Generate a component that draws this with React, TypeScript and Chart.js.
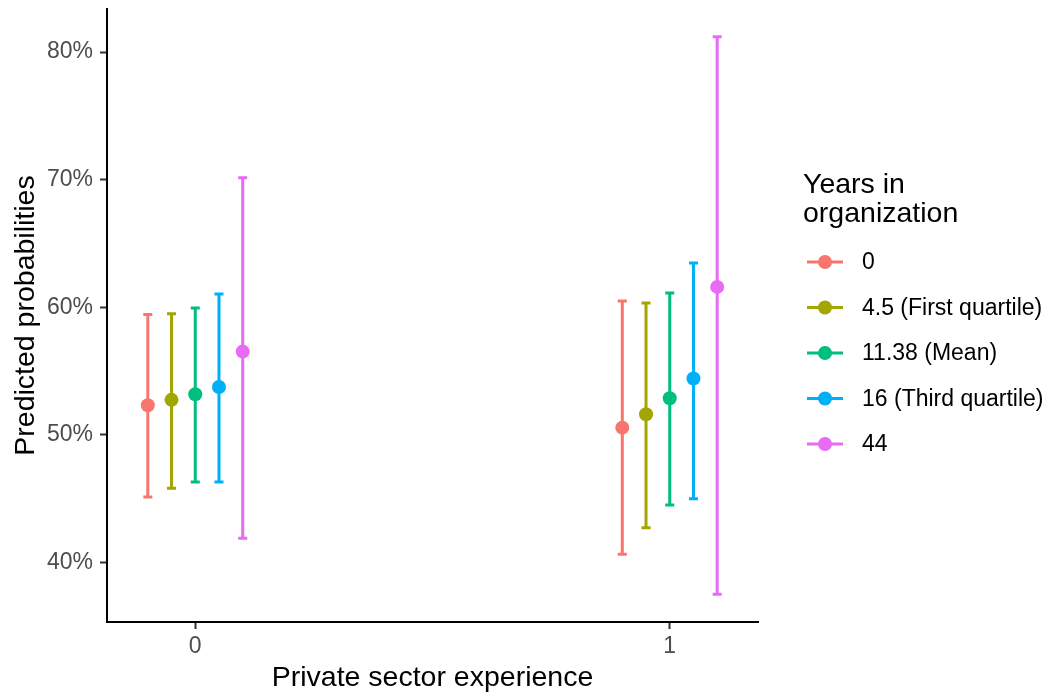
import React, { useEffect, useRef } from 'react';
import { Chart, registerables } from 'chart.js';

Chart.register(...registerables);

// ---- data ----
const xCategories = ['0', '1'];
const xCategoryValues = [0, 1];
const groupLabels = ['0', '4.5 (First quartile)', '11.38 (Mean)', '16 (Third quartile)', '44'];
const groupColors = ['#F8766D', '#A3A500', '#00BF7D', '#00B0F6', '#E76BF3'];
// predicted probabilities (%), private sector experience = 0
const estimate0 = [52.33, 52.75, 53.19, 53.76, 56.53];
const lower0 = [45.14, 45.82, 46.31, 46.31, 41.9];
const upper0 = [59.43, 59.5, 59.95, 61.04, 70.15];
// predicted probabilities (%), private sector experience = 1
const estimate1 = [50.57, 51.62, 52.88, 54.42, 61.6];
const lower1 = [40.64, 42.73, 44.51, 45.0, 37.52];
const upper1 = [60.5, 60.34, 61.12, 63.47, 81.2];
const yTickValues = [40, 50, 60, 70, 80];
const legendTitle = ['Years in', 'organization'];
const xTitle = 'Private sector experience';
const yTitle = 'Predicted probabilities';

// ---- style constants ----
const FONT = '"Liberation Sans", Arial, Helvetica, sans-serif';
const DODGE = 0.05;
const CAP_WIDTH = 0.019;
const TICK_SIZE = 23;
const TITLE_SIZE = 28.5;
const BAR_WIDTH = 3;

const errorBarPlugin = {
  id: 'errorBars',
  beforeDatasetsDraw(chart: any) {
    const { ctx, scales } = chart;
    const x = scales.x;
    const y = scales.y;
    chart.data.datasets.forEach((ds: any) => {
      ds.data.forEach((pt: any) => {
        const px = x.getPixelForValue(pt.x);
        const half = (x.getPixelForValue(pt.x + CAP_WIDTH / 2) - x.getPixelForValue(pt.x - CAP_WIDTH / 2)) / 2;
        const yLo = y.getPixelForValue(pt.low);
        const yHi = y.getPixelForValue(pt.high);
        ctx.save();
        ctx.strokeStyle = ds.borderColor;
        ctx.lineWidth = BAR_WIDTH;
        ctx.lineCap = 'butt';
        ctx.beginPath();
        ctx.moveTo(px, yLo);
        ctx.lineTo(px, yHi);
        ctx.moveTo(px - half, yLo);
        ctx.lineTo(px + half, yLo);
        ctx.moveTo(px - half, yHi);
        ctx.lineTo(px + half, yHi);
        ctx.stroke();
        ctx.restore();
      });
    });
  },
};

const legendPlugin = {
  id: 'ggLegend',
  afterDraw(chart: any) {
    const { ctx } = chart;
    const left = chart.chartArea.right + 45;
    ctx.save();
    ctx.fillStyle = '#000000';
    ctx.textAlign = 'left';
    ctx.textBaseline = 'alphabetic';
    ctx.font = `${TITLE_SIZE}px ${FONT}`;
    legendTitle.forEach((line, i) => {
      ctx.fillText(line, left, 193 + i * 29);
    });
    chart.data.datasets.forEach((ds: any, i: number) => {
      const cy = 262 + i * 45.5;
      ctx.strokeStyle = ds.borderColor;
      ctx.lineWidth = BAR_WIDTH;
      ctx.beginPath();
      ctx.moveTo(left + 4, cy);
      ctx.lineTo(left + 40, cy);
      ctx.stroke();
      ctx.fillStyle = ds.backgroundColor;
      ctx.beginPath();
      ctx.arc(left + 22, cy, 7, 0, Math.PI * 2);
      ctx.fill();
      ctx.fillStyle = '#000000';
      ctx.font = `${TICK_SIZE}px ${FONT}`;
      ctx.textBaseline = 'middle';
      ctx.fillText(ds.label, left + 59, cy + 1);
    });
    ctx.restore();
  },
};

const zeroPadding = (s: any) => {
  s.paddingTop = 0;
  s.paddingBottom = 0;
  s.paddingLeft = 0;
  s.paddingRight = 0;
};

export default function App() {
  const canvasRef = useRef<HTMLCanvasElement | null>(null);

  useEffect(() => {
    if (!canvasRef.current) return;
    const datasets = groupLabels.map((label, i) => {
      const offset = (i - (groupLabels.length - 1) / 2) * DODGE;
      return {
        label,
        data: [
          { x: xCategoryValues[0] + offset, y: estimate0[i], low: lower0[i], high: upper0[i] },
          { x: xCategoryValues[1] + offset, y: estimate1[i], low: lower1[i], high: upper1[i] },
        ],
        borderColor: groupColors[i],
        backgroundColor: groupColors[i],
        pointBackgroundColor: groupColors[i],
        pointBorderWidth: 0,
        pointRadius: 7,
        pointHoverRadius: 7,
        showLine: false,
      };
    });

    const chart = new Chart(canvasRef.current, {
      type: 'scatter',
      data: { datasets },
      options: {
        responsive: false,
        animation: false,
        events: [],
        layout: { padding: { top: 9, right: 291, bottom: 0, left: 0 }, autoPadding: false },
        plugins: { legend: { display: false }, tooltip: { enabled: false } },
        scales: {
          x: {
            type: 'linear',
            min: -0.186,
            max: 1.186,
            afterBuildTicks: (s: any) => {
              s.ticks = xCategoryValues.map((v) => ({ value: v }));
            },
            afterFit: (s: any) => {
              s.height = 70;
              zeroPadding(s);
            },
            ticks: {
              callback: (_v: any, i: number) => xCategories[i],
              color: '#4D4D4D',
              font: { family: FONT, size: TICK_SIZE },
              padding: 4,
              maxRotation: 0,
              autoSkip: false,
            },
            grid: { drawOnChartArea: false, drawTicks: true, tickLength: 7, tickColor: '#333333', tickWidth: 2 },
            border: { display: true, color: '#000000', width: 2 },
            title: {
              display: true,
              text: xTitle,
              color: '#000000',
              font: { family: FONT, size: TITLE_SIZE, lineHeight: 1 },
              padding: { top: 0, bottom: 0 },
            },
          },
          y: {
            type: 'linear',
            min: 35.34,
            max: 83.38,
            afterBuildTicks: (s: any) => {
              s.ticks = yTickValues.map((v) => ({ value: v }));
            },
            afterFit: (s: any) => {
              s.width = 107;
              zeroPadding(s);
            },
            ticks: {
              callback: (v: any) => `${v}%`,
              color: '#4D4D4D',
              font: { family: FONT, size: TICK_SIZE },
              padding: 7,
              autoSkip: false,
            },
            grid: { drawOnChartArea: false, drawTicks: true, tickLength: 7, tickColor: '#333333', tickWidth: 2 },
            border: { display: true, color: '#000000', width: 2 },
            title: {
              display: true,
              text: yTitle,
              color: '#000000',
              font: { family: FONT, size: TITLE_SIZE, lineHeight: 1 },
              padding: { top: 11.5, bottom: 0 },
            },
          },
        },
      } as any,
      plugins: [errorBarPlugin, legendPlugin],
    });
    return () => chart.destroy();
  }, []);

  return (
    <div style={{ position: 'absolute', left: 0, top: 0, width: 1049, height: 692, background: '#ffffff' }}>
      <canvas ref={canvasRef} width={1049} height={692} style={{ display: 'block' }} />
    </div>
  );
}
